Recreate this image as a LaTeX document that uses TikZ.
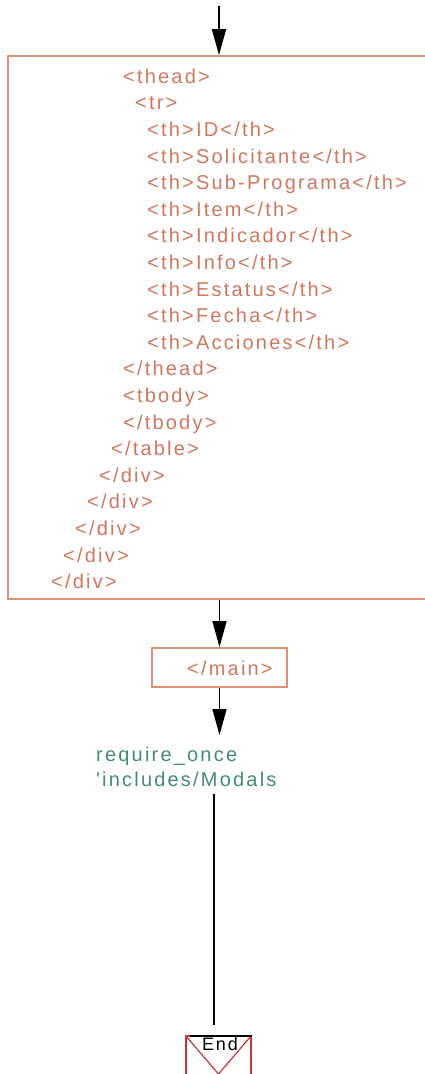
\documentclass[tikz,border=0pt]{standalone}
\usepackage{fontspec}
\usetikzlibrary{arrows.meta}
\newfontfamily\codefam[LetterSpace=11]{Liberation Sans}
\newfontfamily\endfam[LetterSpace=10]{Liberation Sans}
\definecolor{boxline}{RGB}{224,145,120}
\definecolor{codetext}{RGB}{208,120,95}
\definecolor{greentext}{RGB}{70,140,110}
\definecolor{endred}{RGB}{195,55,55}
\tikzset{
  code/.style={anchor=base west, inner sep=0pt, text=codetext, font=\codefam\fontsize{20}{23}\selectfont},
  greencode/.style={anchor=base west, inner sep=0pt, text=greentext, font=\codefam\fontsize{20}{23}\selectfont},
  flow/.style={draw=black, line width=1.6pt, -{Triangle[length=26pt,width=14pt]}},
  plainflow/.style={draw=black, line width=1.6pt},
  salmonbox/.style={draw=boxline, line width=1.8pt, inner sep=0pt},
}
\begin{document}
\begin{tikzpicture}[x=1pt,y=-1pt]
\clip (0,0) rectangle (425,1074);
\fill[white] (0,0) rectangle (425,1074);
% big body box
\node[salmonbox, minimum width=432pt, minimum height=543pt] (body) at (224,327.5) {};
\coordinate (start) at (219,6);
\draw[flow] (start) -- (start |- body.north);
% code lines
\node[code] (l0) at (123,83.3) {<thead>};
\node[code] (l1) at (135,109.9) {<tr>};
\node[code] (l2) at (147,136.5) {<th>ID</th>};
\node[code] (l3) at (147,163.1) {<th>Solicitante</th>};
\node[code] (l4) at (147,189.7) {<th>Sub-Programa</th>};
\node[code] (l5) at (147,216.3) {<th>Item</th>};
\node[code] (l6) at (147,242.9) {<th>Indicador</th>};
\node[code] (l7) at (147,269.5) {<th>Info</th>};
\node[code] (l8) at (147,296.1) {<th>Estatus</th>};
\node[code] (l9) at (147,322.7) {<th>Fecha</th>};
\node[code] (l10) at (147,349.3) {<th>Acciones</th>};
\node[code] (l11) at (123,375.9) {</thead>};
\node[code] (l12) at (123,402.5) {<tbody>};
\node[code] (l13) at (123,429.1) {</tbody>};
\node[code] (l14) at (111,455.7) {</table>};
\node[code] (l15) at (99,482.3) {</div>};
\node[code] (l16) at (87,508.9) {</div>};
\node[code] (l17) at (75,535.5) {</div>};
\node[code] (l18) at (63,562.1) {</div>};
\node[code] (l19) at (51,588.7) {</div>};
% main box
\node[salmonbox, minimum width=135pt, minimum height=39pt] (mainbox) at (219.5,667.5) {};
\node[code] (maintext) at (187,675) {</main>};
\draw[flow] (body.south -| mainbox.north) -- (mainbox.north);
% green text
\node[greencode] (req1) at (96,761.5) {require\_once};
\node[greencode] (req2) at (96,786.5) {'includes/Modals};
\coordinate (reqtop) at (219.5,735);
\draw[flow] (mainbox.south) -- (reqtop);
% line to end
\coordinate (linetop) at (214,794);
\coordinate (lineend) at (214,1025);
\draw[plainflow] (linetop) -- (lineend);
% end box
\node[draw=endred, line width=1.2pt, minimum width=65pt, minimum height=60pt, inner sep=0pt] (endbox) at (218.5,1066) {};
\draw[endred, line width=1.2pt] (endbox.north west) -- (218.5,1074) -- (endbox.north east);
\draw[black, line width=1.2pt] (190,1036) -- (252,1036);
\node[anchor=base west, inner sep=0pt, font=\endfam\fontsize{18}{20}\selectfont, text=black] (endtext) at (202,1050) {End};
\end{tikzpicture}
\end{document}
